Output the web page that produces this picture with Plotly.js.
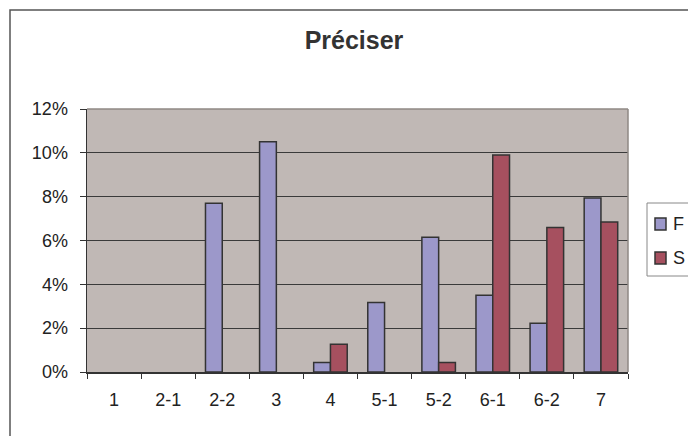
<!DOCTYPE html>
<html>
<head>
<meta charset="utf-8">
<script src="https://cdn.plot.ly/plotly-3.0.1.min.js"></script>
<style>
  html, body { margin: 0; padding: 0; background: #ffffff; }
  #chart { width: 688px; height: 436px; }
</style>
</head>
<body>
<div id="chart"></div>
<script>
const categories = ['1', '2-1', '2-2', '3', '4', '5-1', '5-2', '6-1', '6-2', '7'];
const seriesF = [0, 0, 0.077, 0.105, 0.0043, 0.0317, 0.0615, 0.035, 0.0222, 0.0794];
const seriesS = [0, 0, 0, 0, 0.0127, 0, 0.0043, 0.099, 0.0659, 0.0684];
const seriesNames = ['F', 'S'];
const seriesColors = ['#9c98ca', '#a6505f'];
const yTickVals = [0, 0.02, 0.04, 0.06, 0.08, 0.10, 0.12];
const yTickText = ['0%', '2%', '4%', '6%', '8%', '10%', '12%'];

const font = 'Liberation Sans, Arial, sans-serif';
// zero-height bars are not drawn in the reference
const hideZero = arr => arr.map(v => (v === 0 ? null : v));

const W = 688, H = 436;
const M = { l: 87, r: 60, t: 109, b: 64 };
const PW = W - M.l - M.r, PH = H - M.t - M.b;
const px = x => (x - M.l) / PW;          // pixel -> paper x
const py = y => (H - M.b - y) / PH;      // pixel -> paper y

const traces = [seriesF, seriesS].map((vals, i) => ({
  type: 'bar', name: seriesNames[i], x: categories, y: hideZero(vals),
  marker: { color: seriesColors[i], line: { color: '#333333', width: 1.5 } },
  hoverinfo: 'none'
}));

const shapes = [
  // outer chart border (right and bottom run off the picture)
  { type: 'rect', xref: 'paper', yref: 'paper',
    x0: px(10), x1: px(720), y0: py(460), y1: py(10),
    line: { color: '#555555', width: 1.5 }, fillcolor: 'rgba(0,0,0,0)', layer: 'below' },
  // lighter top and right plot-area edges
  { type: 'line', xref: 'paper', yref: 'paper', x0: 0, x1: 1, y0: 1, y1: 1,
    line: { color: '#8f8884', width: 1.5 }, layer: 'above' },
  { type: 'line', xref: 'paper', yref: 'paper', x0: 1, x1: 1, y0: 0, y1: 1,
    line: { color: '#8f8884', width: 1.5 }, layer: 'above' },
  // legend box
  { type: 'rect', xref: 'paper', yref: 'paper',
    x0: px(647), x1: px(720), y0: py(276), y1: py(203),
    line: { color: '#888888', width: 1 }, fillcolor: '#ffffff', layer: 'above' }
];
const annotations = [];
const legendRows = [224, 258];
seriesNames.forEach((name, i) => {
  const cy = legendRows[i];
  shapes.push({ type: 'rect', xref: 'paper', yref: 'paper',
    x0: px(655), x1: px(666), y0: py(cy + 6), y1: py(cy - 6),
    line: { color: '#333333', width: 1.5 }, fillcolor: seriesColors[i], layer: 'above' });
  annotations.push({ xref: 'paper', yref: 'paper', x: px(671), y: py(cy),
    xanchor: 'left', yanchor: 'middle', showarrow: false, text: name,
    font: { family: font, size: 18, color: '#222222' } });
});

const layout = {
  width: W, height: H,
  margin: { l: M.l, r: M.r, t: M.t, b: M.b, autoexpand: false },
  paper_bgcolor: '#ffffff',
  plot_bgcolor: '#c0b8b5',
  barmode: 'group',
  bargap: 0.38,
  bargroupgap: 0,
  showlegend: false,
  font: { family: font, size: 18, color: '#222222' },
  title: {
    text: '<b>Préciser</b>',
    font: { family: font, size: 25, color: '#333333' },
    xref: 'container', yref: 'container',
    x: 354 / W, xanchor: 'center',
    y: (H - 40) / H, yanchor: 'middle'
  },
  xaxis: {
    type: 'category',
    tickson: 'boundaries',
    ticks: 'outside', ticklen: 5, tickwidth: 1, tickcolor: '#333333',
    showline: true, linecolor: '#333333', linewidth: 1.5,
    showgrid: false,
    ticklabelstandoff: 11,
    tickfont: { family: font, size: 18, color: '#222222' },
    fixedrange: true
  },
  yaxis: {
    range: [0, 0.12],
    tickvals: yTickVals, ticktext: yTickText,
    ticks: 'outside', ticklen: 6, tickwidth: 1, tickcolor: '#333333',
    showline: true, linecolor: '#333333', linewidth: 1.5,
    showgrid: true, gridcolor: '#3a3a3a', gridwidth: 1,
    zeroline: false,
    ticklabelstandoff: 8,
    tickfont: { family: font, size: 18, color: '#222222' },
    fixedrange: true
  },
  shapes: shapes,
  annotations: annotations
};

Plotly.newPlot('chart', traces, layout, { staticPlot: true, displayModeBar: false });
</script>
</body>
</html>
